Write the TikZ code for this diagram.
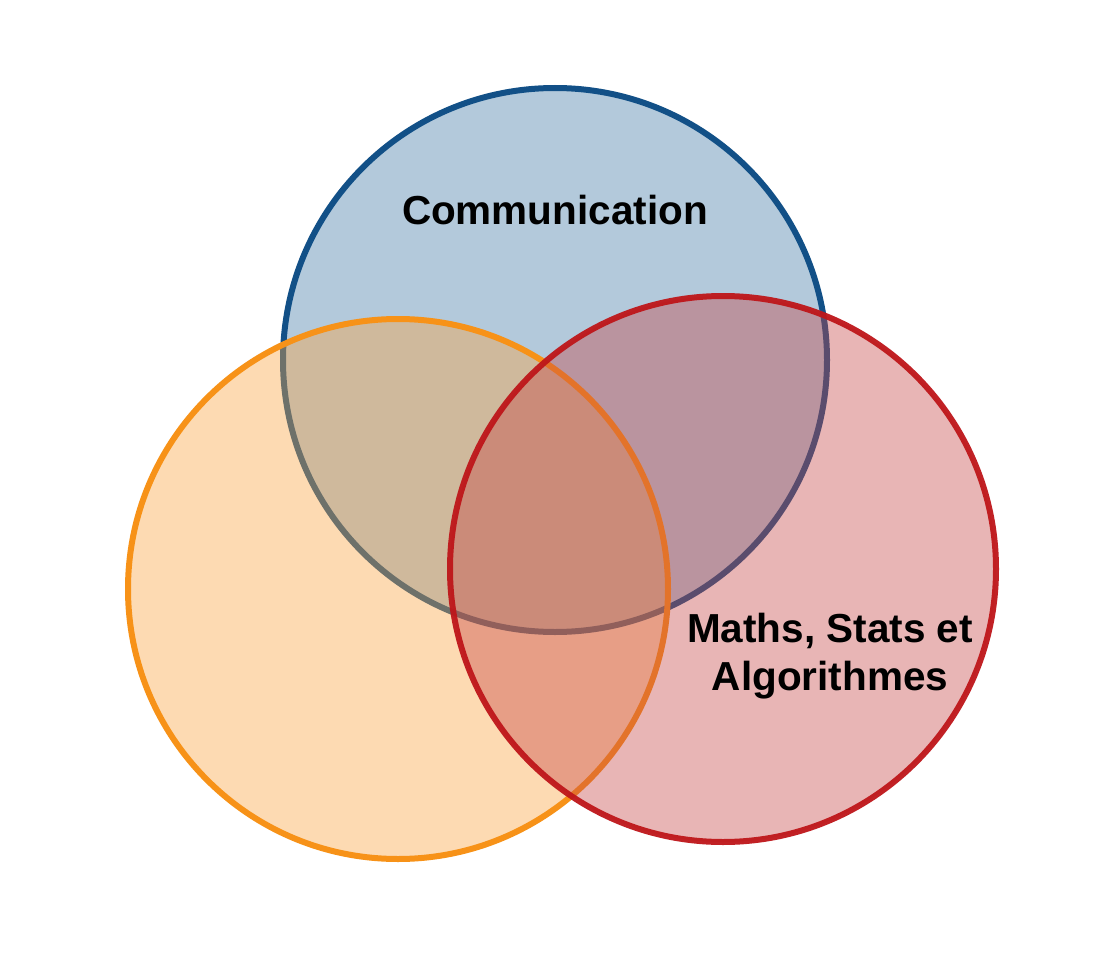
\documentclass[tikz,border=0pt]{standalone}
\usepackage{fontspec}
\setmainfont{Liberation Sans}
\begin{document}
\begin{tikzpicture}[x=1pt,y=-1pt]
\definecolor{bf}{RGB}{179,201,219}\definecolor{bs}{RGB}{18,80,135}
\definecolor{of}{RGB}{250,163,63}\definecolor{os}{RGB}{247,146,24}
\definecolor{rf}{RGB}{198,70,70}\definecolor{rs}{RGB}{190,22,26}
\tikzset{circ/.style={line width=6pt},lab/.style={font=\fontsize{40.5}{48}\selectfont\bfseries,align=center}}
\fill[white] (0,0) rectangle (1120,955);
\node[circle,minimum size=544pt,draw=bs,fill=bf,circ] (blue) at (555,360) {};
\node[circle,minimum size=540pt,draw=os,fill=of,fill opacity=0.4,draw opacity=1,circ] (orange) at (398,589) {};
\node[circle,minimum size=546pt,draw=rs,fill=rf,fill opacity=0.4,draw opacity=0.95,circ] (red) at (723,569) {};
\node[lab] (t1) at (555,210) {Communication};
\node[lab] (t2) at (830,656) {Maths, Stats et\\Algorithmes};
\end{tikzpicture}
\end{document}
